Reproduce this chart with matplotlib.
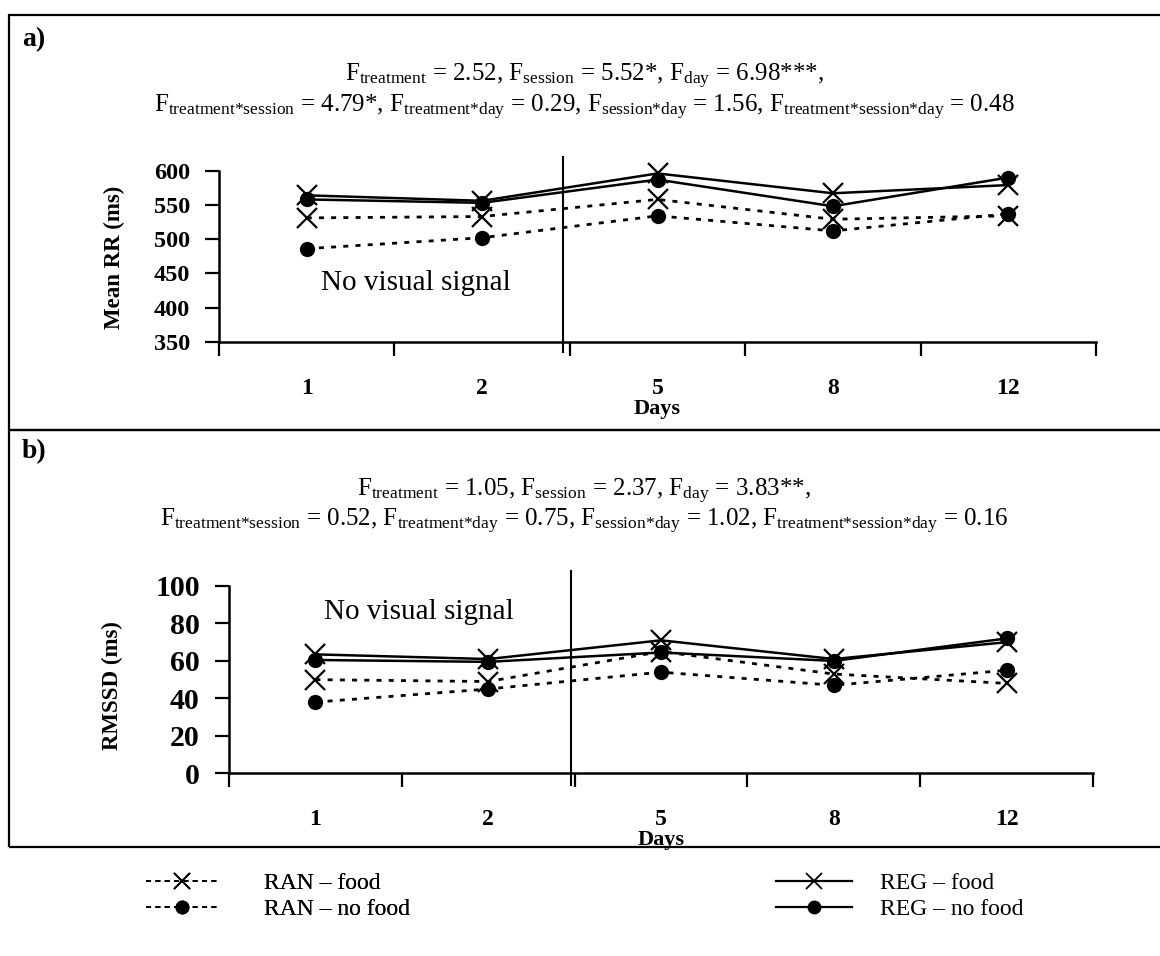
import matplotlib
matplotlib.use("Agg")
import matplotlib.pyplot as plt
from matplotlib.lines import Line2D
from matplotlib.patches import Rectangle

plt.rcParams['font.family'] = ['Liberation Serif', 'DejaVu Serif']
plt.rcParams['mathtext.fontset'] = 'custom'
plt.rcParams['mathtext.rm'] = 'Liberation Serif'
plt.rcParams['mathtext.it'] = 'Liberation Serif:italic'
plt.rcParams['mathtext.bf'] = 'Liberation Serif:bold'

# ---------------- data ----------------
days = ['1', '2', '5', '8', '12']

rr_ran_food = [531, 533, 558, 529, 534]
rr_ran_nofood = [486, 502, 534, 512, 537]
rr_reg_food = [564, 556, 596, 567, 579]
rr_reg_nofood = [558, 553, 587, 548, 590]

rm_ran_food = [50, 49, 65, 53, 48]
rm_ran_nofood = [38, 45, 54, 47, 55]
rm_reg_food = [63.5, 61, 71, 61, 70]
rm_reg_nofood = [60.5, 59.5, 64.5, 60, 72]

series_names = ['RAN – food', 'RAN – no food', 'REG – food', 'REG – no food']

stats_a = [r"F$_{\mathrm{treatment}}$ = 2.52, F$_{\mathrm{session}}$ = 5.52*, F$_{\mathrm{day}}$ = 6.98***,",
           r"F$_{\mathrm{treatment{*}session}}$ = 4.79*, F$_{\mathrm{treatment{*}day}}$ = 0.29, "
           r"F$_{\mathrm{session{*}day}}$ = 1.56, F$_{\mathrm{treatment{*}session{*}day}}$ = 0.48"]
stats_b = [r"F$_{\mathrm{treatment}}$ = 1.05, F$_{\mathrm{session}}$ = 2.37, F$_{\mathrm{day}}$ = 3.83**,",
           r"F$_{\mathrm{treatment{*}session}}$ = 0.52, F$_{\mathrm{treatment{*}day}}$ = 0.75, "
           r"F$_{\mathrm{session{*}day}}$ = 1.02, F$_{\mathrm{treatment{*}session{*}day}}$ = 0.16"]

W, H = 1160, 956
fig = plt.figure(figsize=(W / 100, H / 100), dpi=100)

def fx(px):
    return px / W

def fy(py):
    return 1 - py / H

# panel frames
for top, bot in [(15, 430), (430, 847)]:
    fig.add_artist(Rectangle((fx(9), fy(bot)), fx(1165) - fx(9), fy(top) - fy(bot),
                             transform=fig.transFigure, fill=False, lw=1.6,
                             edgecolor='black', zorder=0))

DOT = (0, (1.8, 2.6))
STYLES = [
    dict(ls=DOT, lw=2.0, marker='x', ms=15, mew=1.6),
    dict(ls=DOT, lw=2.0, marker='o', ms=11, mew=0),
    dict(ls='-', lw=1.8, marker='x', ms=15, mew=1.6),
    dict(ls='-', lw=1.8, marker='o', ms=11, mew=0),
]

def draw_panel(ax, vals, ylim, yticks, ytick_fs, vline_x, note_xy):
    x = list(range(len(days)))
    for v, st, name in zip(vals, STYLES, series_names):
        ax.plot(x, v, color='black', markerfacecolor='black',
                markeredgecolor='black', label=name, clip_on=False, **st)
    ax.set_xlim(-0.5, len(days) - 0.5)
    ax.set_ylim(*ylim)
    ax.set_yticks(yticks)
    ax.set_yticklabels([str(t) for t in yticks], fontsize=ytick_fs, fontweight='bold')
    ax.set_xticks(x)
    ax.set_xticklabels(days, fontsize=17, fontweight='bold')
    ax.set_xticks([i - 0.5 for i in range(len(days) + 1)], minor=True)
    ax.tick_params(axis='x', which='major', length=0, pad=26)
    ax.tick_params(axis='x', which='minor', length=10, width=1.6, direction='out')
    ax.tick_params(axis='y', length=10, width=1.6, direction='out', pad=11)
    for s in ['top', 'right']:
        ax.spines[s].set_visible(False)
    for s in ['left', 'bottom']:
        ax.spines[s].set_linewidth(1.8)
    ax.axvline(vline_x, ymin=-0.06, ymax=1.08, color='black', lw=1.5, clip_on=False)
    ax.text(note_xy[0], note_xy[1], 'No visual signal', fontsize=21,
            ha='left', va='center')
    ax.set_xlabel('Days', fontsize=16, fontweight='bold', labelpad=0)

# panel a
axa = fig.add_axes([fx(219), fy(341.7), fx(1096) - fx(219), fy(170.7) - fy(341.7)])
draw_panel(axa, [rr_ran_food, rr_ran_nofood, rr_reg_food, rr_reg_nofood],
           (350, 600), [350, 400, 450, 500, 550, 600], 17.5, 1.46, (0.08, 436))
fig.text(fx(114), fy(257), 'Mean RR (ms)', rotation=90, ha='center', va='center',
         fontsize=16.5, fontweight='bold')
fig.text(fx(22), fy(40), 'a)', fontsize=20, fontweight='bold', ha='left', va='center')
fig.text(fx(584), fy(76), stats_a[0], fontsize=18, ha='center', va='center')
fig.text(fx(584), fy(107), stats_a[1], fontsize=18, ha='center', va='center')

# panel b
axb = fig.add_axes([fx(229), fy(773.3), fx(1093) - fx(229), fy(586) - fy(773.3)])
draw_panel(axb, [rm_ran_food, rm_ran_nofood, rm_reg_food, rm_reg_nofood],
           (0, 100), [0, 20, 40, 60, 80, 100], 21.5, 1.48, (0.05, 86))
fig.text(fx(112), fy(686), 'RMSSD (ms)', rotation=90, ha='center', va='center',
         fontsize=16.5, fontweight='bold')
fig.text(fx(22), fy(452), 'b)', fontsize=20, fontweight='bold', ha='left', va='center')
fig.text(fx(584), fy(491), stats_b[0], fontsize=18, ha='center', va='center')
fig.text(fx(584), fy(521), stats_b[1], fontsize=18, ha='center', va='center')

# legends (proxy handles with legend-sized markers)
LEG_DASH = (0, (2.6, 2.2))
left_handles = [
    Line2D([], [], color='black', ls=LEG_DASH, lw=1.4, marker='x', ms=12, mew=1.3),
    Line2D([], [], color='black', ls=LEG_DASH, lw=1.4, marker='o', ms=10, mew=0),
]
right_handles = [
    Line2D([], [], color='black', ls='-', lw=1.6, marker='x', ms=12, mew=1.3),
    Line2D([], [], color='black', ls='-', lw=1.6, marker='o', ms=10, mew=0),
]
leg1 = fig.legend(handles=left_handles, labels=series_names[:2], loc='upper left',
                  bbox_to_anchor=(fx(125), fy(851)), frameon=False, fontsize=17,
                  handlelength=3.0, handletextpad=2.0, labelspacing=0.2)
fig.add_artist(leg1)
fig.legend(handles=right_handles, labels=series_names[2:], loc='upper left',
           bbox_to_anchor=(fx(755), fy(851)), frameon=False, fontsize=17,
           handlelength=3.2, handletextpad=1.2, labelspacing=0.2)

fig.savefig('out.png', dpi=100)
